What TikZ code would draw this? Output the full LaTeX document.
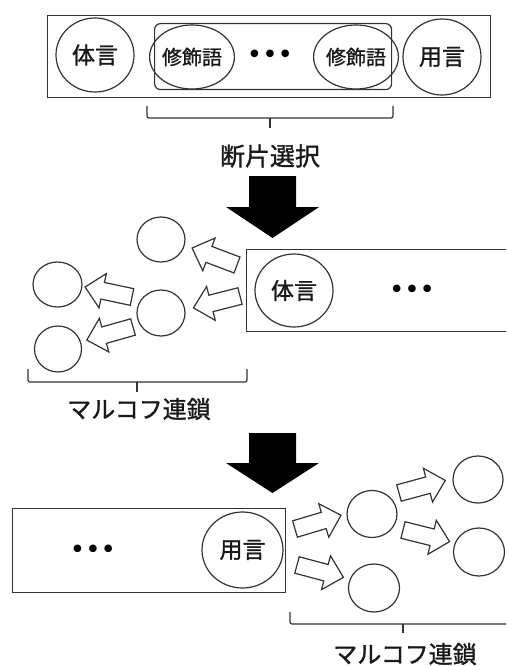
\documentclass[tikz,border=0pt]{standalone}
\usepackage{fontspec}
\setmainfont{Noto Sans CJK JP}[FakeBold=1.2]
\newfontfamily\djv{DejaVu Sans}
\usetikzlibrary{shapes.geometric,calc}
\newcommand\harrowat[2]{\path let \p1=(#1), \p2=(#2), \n1={atan2(\y2-\y1,\x2-\x1)} in pic[rotate=\n1] at (\p1) {harrow};}
\begin{document}
\begin{tikzpicture}[x=1pt,y=-1pt,
  ln/.style={draw=black!80, line width=1.2pt},
  word/.style={ellipse, ln, inner sep=0pt, text=black!90},
  blank/.style={ellipse, ln, inner sep=0pt},
  box/.style={ln, rectangle, inner sep=0pt, anchor=north west},
  harrowline/.style={ln, fill=white, line join=miter},
  bigarrow/.style={fill=black},
  brace/.style={ln, rounded corners=2pt},
  lbl/.style={font=\fontsize{24pt}{24pt}\selectfont, text=black!90, inner sep=0pt},
  big/.style={font=\fontsize{23pt}{23pt}\selectfont},
  small/.style={font=\fontsize{20pt}{20pt}\selectfont},
  dotsn/.style={font=\djv\fontsize{26pt}{26pt}\selectfont, inner sep=0pt},
  harrow/.pic={\draw[harrowline] (0,8.5) -- (30,8.5) -- (30,17.5) -- (48,0) -- (30,-17.5) -- (30,-8.5) -- (0,-8.5) -- cycle;}
]
\clip (0,0) rectangle (506,666);
% ---------- top ----------
\node[box, minimum width=443, minimum height=82] (outer) at (47,15) {};
\node[box, rounded corners=6pt, minimum width=237, minimum height=66] (inner) at (154,23) {};
\node[word, big, minimum width=78, minimum height=74] (t1) at (95,55) {体言};
\node[word, small, minimum width=70, minimum height=64] (m1) at (192,57) {修飾語};
\node[dotsn] (dt1) at (270,57) {•••};
\node[word, small, minimum width=68, minimum height=64] (m2) at (356,57) {修飾語};
\node[word, big, minimum width=78, minimum height=76] (y1) at (442,57) {用言};
\coordinate (br1a) at (147,106);
\coordinate (br1b) at (393,106);
\coordinate (br1m) at (270,118);
\coordinate (br1t) at (270,128);
\draw[brace] (br1a) |- (br1m) -| (br1b);
\draw[ln] (br1m) -- (br1t);
\node[lbl, font=\fontsize{25pt}{25pt}\selectfont] (sel) at (270,156) {断片選択};
\coordinate (ba1) at (272.5,176);
\fill[bigarrow] (ba1) ++(-23.5,0) -- ++(47,0) -- ++(0,31) -- ++(23,0) -- ++(-46.5,31) -- ++(-46.5,-31) -- ++(23,0) -- cycle;
% ---------- middle ----------
\node[box, minimum width=280, minimum height=82] (r2) at (246,249) {};
\node[word, big, minimum width=78, minimum height=73] (t2) at (294,290.5) {体言};
\node[dotsn] (dt2) at (412,292) {•••};
\node[blank, minimum width=48, minimum height=45] (c1) at (161,239.5) {};
\node[blank, minimum width=49, minimum height=45] (c2) at (57.5,284.5) {};
\node[blank, minimum width=48, minimum height=46] (c3) at (161,313) {};
\node[blank, minimum width=47, minimum height=46] (c4) at (58,349) {};
\coordinate (a1t) at (237,265); \coordinate (a1h) at (192,248);
\coordinate (a2t) at (240,296); \coordinate (a2h) at (193,308);
\coordinate (a3t) at (132,297); \coordinate (a3h) at (85,287);
\coordinate (a4t) at (133,327); \coordinate (a4h) at (87,340);
\harrowat{a1t}{a1h}
\harrowat{a2t}{a2h}
\harrowat{a3t}{a3h}
\harrowat{a4t}{a4h}
\coordinate (br2a) at (28,369);
\coordinate (br2b) at (247,369);
\coordinate (br2m) at (137,382);
\coordinate (br2t) at (137,392);
\draw[brace] (br2a) |- (br2m) -| (br2b);
\draw[ln] (br2m) -- (br2t);
\node[lbl] (mk1) at (139,409) {マルコフ連鎖};
\coordinate (ba2) at (272.5,433);
\fill[bigarrow] (ba2) ++(-23.5,0) -- ++(47,0) -- ++(0,30) -- ++(23,0) -- ++(-46.5,30) -- ++(-46.5,-30) -- ++(23,0) -- cycle;
% ---------- bottom ----------
\node[box, minimum width=273, minimum height=84] (r3) at (12,508) {};
\node[dotsn] (dt3) at (93,552) {•••};
\node[word, big, minimum width=81, minimum height=76] (y3) at (242.5,550) {用言};
\node[blank, minimum width=50, minimum height=47] (d1) at (372,514) {};
\node[blank, minimum width=50, minimum height=47] (d2) at (478,479.5) {};
\node[blank, minimum width=51, minimum height=48] (d3) at (479,552) {};
\node[blank, minimum width=51, minimum height=48] (d4) at (374,588) {};
\coordinate (b1t) at (295,529); \coordinate (b1h) at (342,515);
\coordinate (b2t) at (297,565); \coordinate (b2h) at (346,578);
\coordinate (b3t) at (399,493); \coordinate (b3h) at (447,480);
\coordinate (b4t) at (403,530); \coordinate (b4h) at (451,542);
\harrowat{b1t}{b1h}
\harrowat{b2t}{b2h}
\harrowat{b3t}{b3h}
\harrowat{b4t}{b4h}
\coordinate (br3a) at (290,612);
\coordinate (br3b) at (530,612);
\coordinate (br3m) at (403,624);
\coordinate (br3t) at (403,633);
\draw[brace] (br3a) |- (br3m) -| (br3b);
\draw[ln] (br3m) -- (br3t);
\node[lbl] (mk2) at (405,654) {マルコフ連鎖};
\end{tikzpicture}
\end{document}
